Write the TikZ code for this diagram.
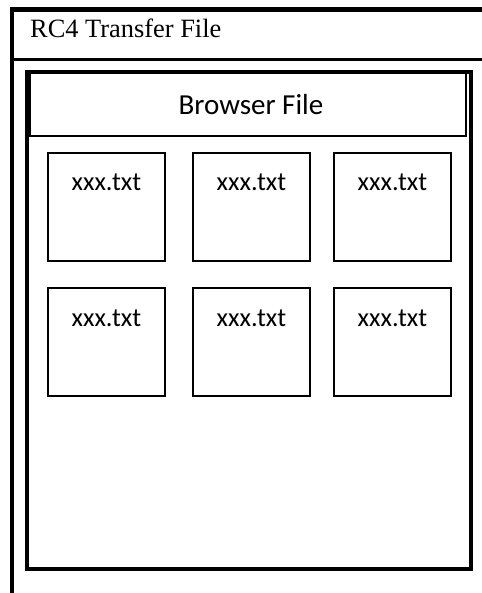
\documentclass[tikz,border=0pt]{standalone}
\usepackage{fontspec}
\usetikzlibrary{calc}
\setmainfont{Liberation Serif}
\newfontfamily\calfont{Carlito}
\begin{document}
\begin{tikzpicture}[x=1pt,y=-1pt,
  thinbox/.style={draw=black,line width=2.2pt,fill=white,inner sep=0pt,outer sep=0pt},
  filebox/.style={thinbox,minimum width=117pt,minimum height=108pt,anchor=north west},
  filetext/.style={font=\calfont\fontsize{26.4}{30}\selectfont,anchor=base,inner sep=0pt},
  frameline/.style={line width=4.5pt}]
\useasboundingbox (0,0) rectangle (481,593);
% outer frame (extends beyond the picture)
\draw[line width=5pt] (10,9.8) -- (495,9.8);
\draw[line width=4pt] (12,7.3) -- (12,600);
\draw[line width=3pt] (12,60) -- (495,60);
\draw[line width=4.5pt] (12,12) -- (12,60);
\node[anchor=base west,inner sep=0pt,font=\fontsize{26.4}{30}\selectfont] (title) at (30,38) {RC4 Transfer File};
% browser frame
\draw[frameline,fill=white] (27,72) rectangle (471,569);
\draw[line width=2pt] (29.5,72) rectangle (465.5,136);
\node[filetext,font=\calfont\fontsize{29}{33}\selectfont] (browser) at (251,115) {Browser File};
% files
\foreach \i/\x/\y in {1/48/153,2/193/153,3/334/153,4/48/288,5/193/288,6/334/288}{
  \node[filebox] (f\i) at (\x,\y) {};
  \node[filetext] (t\i) at ($(f\i.north)+(0,38)$) {xxx.txt};
}
\end{tikzpicture}
\end{document}
